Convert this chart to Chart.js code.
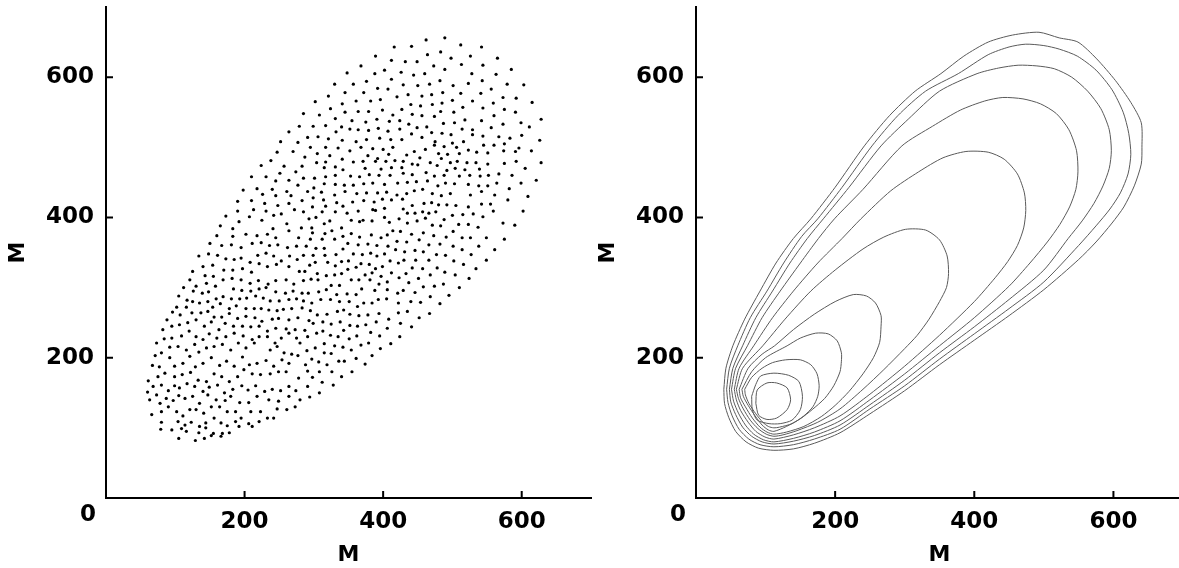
<!DOCTYPE html>
<html lang="en">

<head>
    <meta charset="UTF-8">
    <title>M / M</title>
    <script src="https://cdn.jsdelivr.net/npm/chart.js"></script>
    <style>
        body { margin: 0; background: #fff; overflow: hidden; width: 1179px; height: 568px; position: relative; }
        .painel { position: absolute; top: 0; width: 595px; height: 568px; }
        #painel-pontos { left: 0; }
        #painel-contorno { left: 590px; }
    </style>
</head>

<body>
    <div class="painel" id="painel-pontos"><canvas id="graficoPontos"></canvas></div>
    <div class="painel" id="painel-contorno"><canvas id="graficoContorno"></canvas></div>

<script>
    // eixos
    var tickValues = [200, 400, 600];
    var axisTitle = 'M';

    // pontos, por região
    var dotsUpperLeft = [
        [279,530],[264,522],[252,508],[277,507],[247,493],[270,494],[238,481],[224,474],[257,473],[283,473],
        [274,465],[251,463],[210,458],[231,458],[264,453],[245,452],[198,439],[218,441],[240,440],[277,446],
        [261,437],[226,433],[245,431],[267,431],[190,423],[210,424],[283,424],[229,420],[248,417],[264,420],
        [190,409],[213,411],[272,411],[231,409],[253,405],[173,402],[207,401],[242,403],[192,394],[225,396],
        [261,391],[165,388],[183,384],[241,384],[282,385]
    ];

    var dotsUpperRight = [
        [489,656],[462,653],[512,646],[542,643],[441,644],[416,643],[483,636],[464,632],[389,630],[526,630],
        [498,627],[565,627],[412,624],[432,622],[449,622],[513,618],[544,617],[473,616],[368,616],[489,611],
        [585,611],[402,610],[388,605],[426,607],[348,606],[460,605],[444,603],[528,605],[563,604],[412,597],
        [482,595],[543,595],[376,594],[330,590],[357,590],[429,589],[467,590],[450,588],[501,588],[523,591],
        [579,590],[603,589],[392,584],[407,583],[556,583],[345,578],[372,578],[486,578],[512,577],[541,577],
        [470,575],[436,575],[456,573],[573,571],[592,570],[321,573],[420,572],[396,568],[361,566],[382,566],
        [500,567],[529,566],[302,565],[341,562],[615,564],[559,563],[485,563],[440,561],[454,559],[471,561],
        [515,557],[544,556],[324,555],[427,554],[399,553],[364,551],[379,551],[345,550],[308,546],[285,548],
        [414,546],[502,550],[483,551],[575,554],[591,550],[560,545],[456,545],[442,547],[331,541],[355,538],
        [391,540],[409,537],[375,536],[424,538],[474,544],[518,539],[542,538],[573,533],[628,540],[599,535],
        [299,530],[317,531],[340,529],[437,533],[487,534],[503,535],[529,525],[556,528],[611,529],[291,514],
        [306,515],[321,512],[332,522],[352,526],[364,525],[379,524],[393,527],[407,523],[424,526],[449,528],
        [463,529],[470,521],[485,520],[498,518],[514,526],[341,510],[361,508],[376,511],[395,513],[411,511],
        [427,511],[441,519],[456,514],[475,508],[500,506],[516,508],[529,518],[544,516],[567,515],[583,513],
        [600,517],[626,510],[295,500],[317,500],[335,499],[352,495],[368,500],[385,498],[400,497],[414,500],
        [434,489],[445,494],[461,497],[474,503],[488,501],[506,500],[545,503],[560,503],[575,505],[596,499],
        [305,491],[323,488],[378,488],[408,490],[392,484],[480,491],[493,490],[510,491],[523,496],[535,493],
        [551,492],[574,495],[614,495],[591,494],[287,486],[304,478],[317,479],[341,483],[357,479],[371,480],
        [389,480],[404,480],[417,481],[429,480],[442,476],[453,485],[468,478],[484,484],[497,478],[507,480],
        [521,478],[534,478],[551,476],[575,477],[592,480],[628,478],[315,471],[331,472],[342,468],[374,470],
        [397,469],[412,471],[427,471],[450,475],[478,474],[492,467],[518,468],[504,470],[567,462],[586,460],
        [605,470],[539,469],[285,456],[301,456],[317,458],[331,460],[353,459],[366,458],[380,461],[394,460],
        [410,460],[429,463],[442,461],[462,464],[474,459],[488,460],[510,459],[525,460],[540,459],[552,460],
        [300,442],[315,448],[331,447],[344,446],[357,446],[372,448],[385,449],[402,447],[421,449],[435,450],
        [448,451],[464,452],[479,445],[490,449],[503,448],[523,447],[538,445],[551,445],[564,449],[582,441],
        [599,449],[621,453],[291,437],[311,436],[330,432],[345,437],[362,434],[376,435],[392,435],[405,436],
        [420,432],[434,434],[445,438],[457,440],[471,434],[484,431],[497,434],[526,432],[542,437],[561,432],
        [609,430],[299,428],[314,425],[356,422],[372,424],[387,422],[399,426],[412,425],[428,426],[298,415],
        [317,416],[333,421],[342,416],[385,411],[402,413],[429,412],[442,417],[459,420],[470,421],[480,418],
        [492,418],[505,417],[523,415],[542,419],[555,419],[580,425],[285,408],[293,398],[303,400],[312,408],
        [323,395],[331,408],[348,406],[364,409],[371,396],[389,410],[402,400],[423,398],[435,406],[446,406],
        [457,408],[466,406],[476,408],[488,397],[500,403],[515,404],[530,405],[544,401],[559,409],[573,392],
        [590,389],[602,409],[297,385],[315,391],[340,385],[354,396],[366,394],[384,395],[409,393],[435,392],
        [449,395],[461,399],[471,389],[483,388],[509,390],[523,390],[537,386]
    ];

    var dotsLowerLeft = [
        [160,374],[183,373],[202,376],[218,374],[233,376],[245,371],[264,381],[278,371],
        [150,363],[167,360],[181,361],[195,357],[211,363],[224,364],[236,360],[248,361],[262,357],[275,359],
        [134,345],[148,348],[161,346],[173,341],[185,340],[195,342],[208,336],[219,346],[231,349],[242,345],
        [253,338],[265,345],[276,340],[125,323],[140,330],[154,332],[170,325],[183,325],[197,327],[210,322],
        [221,334],[233,330],[246,333],[264,330],[279,323],[121,311],[143,317],[155,316],[169,311],[182,313],
        [195,311],[208,306],[220,310],[234,305],[245,310],[260,311],[271,305],[112,300],[130,302],[145,306],
        [158,302],[184,298],[196,296],[209,295],[221,298],[231,300],[245,294],[259,292],[270,295],[283,292],
        [105,288],[117,282],[126,295],[139,292],[148,294],[159,284],[169,287],[181,284],[193,284],[203,285],
        [216,288],[227,285],[237,281],[250,281],[264,283],[275,284],[102,272],[116,272],[125,280],[135,278],
        [147,280],[154,272],[165,277],[178,270],[188,274],[202,270],[214,270],[224,270],[235,268],[247,267],
        [256,269],[268,270],[283,271],[88,254],[96,265],[107,261],[124,264],[137,264],[147,266],[156,258],
        [167,258],[178,263],[190,256],[202,259],[215,257],[225,252],[240,255],[249,256],[264,254],[277,257],
        [82,240],[95,245],[106,247],[118,250],[130,254],[142,245],[152,251],[163,240],[172,249],[184,245],
        [197,245],[209,244],[221,245],[233,238],[245,242],[260,241],[273,240],[73,221],[84,227],[95,228],
        [109,231],[120,238],[130,230],[140,226],[149,234],[160,228],[173,230],[185,235],[198,231],[211,226],
        [221,230],[233,230],[244,221],[253,228],[264,235],[275,228],[71,203],[80,207],[92,215],[104,216],
        [116,211],[128,219],[134,208],[145,214],[156,216],[168,219],[180,211],[191,221],[202,214],[214,221],
        [237,211],[247,216],[257,207],[268,205],[280,221],[67,189],[77,187],[92,200],[99,188],[111,192],
        [121,202],[129,187],[140,192],[152,200],[164,189],[174,195],[185,188],[197,201],[207,190],[218,192],
        [231,196],[242,188],[254,197],[264,192],[277,203],[61,167],[75,173],[85,178],[99,173],[110,176],
        [122,179],[133,168],[145,166],[156,177],[167,173],[178,166],[190,173],[199,183],[211,177],[223,176],
        [237,177],[249,180],[260,180],[278,171],[60,151],[68,159],[80,161],[90,153],[99,160],[106,157],
        [117,163],[128,159],[140,152],[149,158],[161,161],[171,150],[183,155],[196,160],[205,154],[216,160],
        [229,152],[240,155],[252,153],[264,159],[274,153],[63,140],[73,147],[78,135],[87,142],[97,139],
        [105,146],[114,142],[125,145],[135,135],[147,147],[159,140],[172,139],[180,145],[193,136],[206,136],
        [218,145],[235,140],[249,138],[264,145],[280,140],[66,119],[80,123],[90,130],[102,123],[111,117],
        [121,126],[130,126],[141,121],[152,130],[164,130],[175,123],[187,123],[195,114],[209,123],[223,123],
        [233,114],[247,127],[261,126],[273,130],[80,108],[95,97],[104,109],[114,104],[123,108],[135,102],
        [144,107],[156,114],[166,107],[175,103],[187,109],[206,106],[221,109],[242,114],[79,98],[109,99],
        [116,95],[134,93],[144,100],[155,92],[168,92],[178,93],[192,102],[211,102],[105,85],[129,82],
        [142,85],[152,89],[166,88]
    ];

    var dotsLowerRight = [
        [298,378],[316,377],[326,381],[342,373],[354,377],[366,372],[383,375],[397,371],[406,375],[414,381],
        [425,380],[441,376],[458,378],[473,374],[491,372],[501,380],[514,371],[526,371],[549,371],[575,369],
        [295,369],[312,369],[330,369],[349,363],[364,361],[378,362],[391,360],[407,359],[420,366],[434,365],
        [452,368],[466,361],[482,362],[501,359],[514,354],[538,359],[561,354],[289,359],[303,356],[315,356],
        [332,347],[342,355],[357,348],[370,347],[382,349],[391,345],[402,348],[418,354],[431,351],[446,353],
        [458,351],[477,347],[490,346],[527,347],[549,339],[285,346],[299,346],[316,346],[302,336],[294,332],
        [320,336],[331,331],[340,337],[350,338],[361,329],[368,334],[380,333],[389,327],[399,330],[410,338],
        [422,335],[430,339],[447,339],[466,339],[502,338],[516,333],[534,327],[287,323],[305,320],[318,317],
        [330,318],[340,320],[349,326],[374,318],[384,321],[397,316],[412,321],[423,314],[433,320],[442,328],
        [457,327],[468,318],[478,328],[489,322],[504,318],[524,313],[285,310],[296,312],[306,311],[325,303],
        [337,303],[354,311],[365,311],[381,311],[394,305],[406,308],[421,292],[429,296],[437,307],[451,313],
        [458,301],[474,302],[487,305],[510,300],[292,292],[307,294],[318,297],[333,290],[348,291],[361,290],
        [369,298],[388,296],[406,297],[446,293],[468,287],[495,289],[285,281],[297,278],[310,283],[324,283],
        [337,280],[351,280],[363,273],[372,278],[384,278],[393,283],[405,284],[422,278],[440,280],[454,279],
        [482,277],[295,267],[305,261],[319,262],[334,266],[343,268],[352,262],[365,260],[378,261],[394,263],
        [408,255],[422,264],[435,266],[452,257],[467,263],[293,253],[299,249],[313,251],[325,248],[338,251],
        [352,246],[363,245],[375,247],[390,251],[406,242],[425,249],[441,244],[287,239],[291,230],[304,235],
        [313,238],[324,232],[335,230],[343,239],[351,227],[362,231],[382,236],[395,231],[424,230],[290,210],
        [302,214],[315,220],[330,217],[342,215],[354,211],[368,218],[379,221],[396,213],[411,220],[297,198],
        [307,194],[315,207],[325,206],[336,195],[344,195],[361,199],[384,203],[288,190],[319,190],[374,191],
        [291,181],[308,180],[326,180],[355,180],[298,172],[340,173],[291,159],[312,165],[328,161],[308,150],
        [294,144]
    ];

    // curvas de nível, da mais externa para a mais interna
    var contour1 = [[40,155],[43,185],[53,217],[70,255],[92,295],[115,335],[140,370],[165,398],[200,443],[242,502],[278,545],[315,580],[352,605],[385,630],[420,650],[455,660],[493,664],[522,656],[549,650],[576,626],[603,595],[625,564],[640,535],[641,500],[640,476],[630,445],[615,415],[598,392],[575,365],[550,340],[500,297],[450,260],[400,225],[350,190],[300,153],[250,120],[207,93],[170,78],[140,70],[112,68],[90,71],[72,80],[57,95],[47,115],[41,135],[40,155]];
    var contour2 = [[44,155],[48,185],[60,217],[78,257],[102,295],[126,335],[152,373],[175,398],[210,443],[253,502],[290,545],[330,580],[377,605],[420,632],[450,643],[474,647],[500,645],[522,640],[548,630],[575,610],[598,582],[614,550],[622,520],[625,490],[621,462],[610,435],[595,412],[575,388],[550,360],[500,308],[450,270],[400,234],[350,198],[300,160],[250,127],[207,98],[170,84],[140,76],[112,73],[92,76],[76,84],[62,98],[52,117],[46,136],[44,155]];
    var contour3 = [[48,155],[53,185],[67,217],[86,257],[110,295],[135,335],[160,370],[183,398],[220,443],[266,502],[305,540],[350,580],[404,605],[435,613],[463,617],[490,616],[515,612],[540,600],[563,580],[582,555],[594,525],[597,495],[594,470],[585,445],[572,420],[555,395],[535,370],[500,325],[450,283],[400,244],[350,207],[300,168],[250,133],[207,104],[170,89],[140,81],[112,77],[95,80],[80,88],[67,101],[57,119],[50,137],[48,155]];
    var contour4 = [[51,155],[57,185],[74,217],[95,257],[121,295],[150,335],[176,370],[199,398],[240,440],[296,502],[340,530],[380,553],[415,566],[441,571],[470,569],[495,562],[518,548],[536,525],[547,495],[549,465],[546,440],[537,415],[523,390],[505,365],[480,335],[450,302],[400,257],[350,217],[300,177],[250,140],[207,110],[170,94],[140,85],[112,80],[97,83],[83,91],[71,104],[61,121],[54,138],[51,155]];
    var contour5 = [[55,155],[62,185],[83,217],[110,257],[140,295],[175,335],[210,370],[237,398],[280,438],[320,465],[355,485],[388,494],[420,493],[443,483],[462,462],[472,435],[474,410],[471,385],[462,360],[448,337],[430,314],[400,280],[350,232],[300,188],[250,148],[207,117],[170,100],[140,90],[112,84],[99,87],[86,95],[75,108],[64,125],[58,140],[55,155]];
    var contour6 = [[58,155],[67,185],[96,217],[128,255],[165,295],[200,325],[240,355],[270,372],[301,383],[330,382],[350,368],[361,345],[363,320],[360,300],[350,280],[335,255],[318,232],[300,213],[270,183],[240,155],[207,127],[175,108],[145,96],[125,90],[112,88],[101,91],[89,99],[78,111],[68,127],[61,142],[58,155]];
    var contour7 = [[62,155],[75,185],[95,205],[113,217],[140,240],[170,262],[200,280],[226,290],[245,288],[258,278],[266,260],[266,245],[264,222],[255,200],[240,177],[220,152],[200,132],[180,116],[155,102],[130,94],[112,91],[102,94],[92,101],[81,114],[71,130],[64,143],[62,155]];
    var contour8 = [[66,155],[80,180],[100,200],[131,217],[150,228],[172,235],[190,234],[203,224],[209,207],[209,195],[207,180],[198,160],[185,142],[167,126],[150,113],[130,102],[112,95],[104,97],[95,104],[85,117],[75,132],[68,145],[66,155]];
    var contour9 = [[70,155],[80,172],[95,185],[110,193],[129,197],[150,197],[165,190],[174,177],[177,160],[175,145],[168,130],[155,117],[138,106],[120,101],[112,100],[104,102],[96,108],[86,120],[76,135],[71,147],[70,155]];
    var contour10 = [[80,145],[86,162],[93,174],[112,178],[133,175],[148,166],[153,145],[150,126],[138,111],[121,106],[105,106],[88,111],[81,126],[80,145]];
    var contour11 = [[86,135],[88,154],[102,164],[116,164],[131,157],[136,140],[131,126],[116,114],[102,112],[90,118],[86,135]];

    var fonteEixo = { family: 'DejaVu Sans', size: 23, weight: 'bold' };
    var fonteTitulo = { family: 'DejaVu Sans', size: 22, weight: 'bold' };

    function toXY(lista) {
        return lista.map(function (p) { return { x: p[0], y: p[1] }; });
    }

    // marcas dos ticks para dentro + o "0" no canto
    var marcasInternas = {
        id: 'marcasInternas',
        afterDraw: function (chart) {
            var ctx = chart.ctx;
            var sx = chart.scales.x;
            var sy = chart.scales.y;
            ctx.save();
            ctx.strokeStyle = '#000';
            ctx.lineWidth = 2;
            tickValues.forEach(function (v) {
                var px = sx.getPixelForValue(v);
                var py = sy.getPixelForValue(v);
                ctx.beginPath();
                ctx.moveTo(px, sy.bottom);
                ctx.lineTo(px, sy.bottom - 7);
                ctx.moveTo(sx.left, py);
                ctx.lineTo(sx.left + 7, py);
                ctx.stroke();
            });
            ctx.fillStyle = '#000';
            ctx.font = 'bold 23px "DejaVu Sans"';
            ctx.textAlign = 'center';
            ctx.textBaseline = 'middle';
            ctx.fillText('0', sx.left - 18, sy.bottom + 17);
            ctx.restore();
        }
    };

    function eixo(qual) {
        return {
            type: 'linear',
            min: 0,
            max: 700,
            grid: { display: false, drawTicks: false },
            border: { display: true, color: '#000', width: 2 },
            ticks: {
                color: '#000',
                font: fonteEixo,
                padding: qual === 'x' ? 10 : 12
            },
            afterBuildTicks: function (scale) {
                scale.ticks = tickValues.map(function (v) { return { value: v }; });
            },
            afterFit: function (scale) {
                // tamanho fixo e sem folga extra dos rótulos
                if (qual === 'x') {
                    scale.height = 70;
                } else {
                    scale.width = 106;
                }
                scale.paddingTop = 0;
                scale.paddingBottom = 0;
                scale.paddingLeft = 0;
                scale.paddingRight = 0;
            },
            title: {
                display: true,
                text: axisTitle,
                color: '#000',
                font: fonteTitulo,
                padding: qual === 'x' ? { top: 0, bottom: 0 } : { top: 5, bottom: 0 }
            }
        };
    }

    function opcoes() {
        return {
            responsive: true,
            maintainAspectRatio: false,
            animation: false,
            layout: { padding: { left: 0, right: 2, top: 7, bottom: 0 } },
            plugins: { legend: { display: false }, tooltip: { enabled: false } },
            scales: { x: eixo('x'), y: eixo('y') }
        };
    }

    // Gráfico de pontos
    var todosPontos = [].concat(dotsUpperLeft, dotsUpperRight, dotsLowerLeft, dotsLowerRight);

    new Chart(document.getElementById('graficoPontos').getContext('2d'), {
        type: 'scatter',
        data: {
            datasets: [{
                data: toXY(todosPontos),
                backgroundColor: '#000',
                borderWidth: 0,
                pointRadius: 1.6
            }]
        },
        options: opcoes(),
        plugins: [marcasInternas]
    });

    // Gráfico de contorno
    var curvas = [contour1, contour2, contour3, contour4, contour5, contour6, contour7, contour8, contour9, contour10, contour11];

    new Chart(document.getElementById('graficoContorno').getContext('2d'), {
        type: 'scatter',
        data: {
            datasets: curvas.map(function (c) {
                return {
                    data: toXY(c),
                    showLine: true,
                    borderColor: '#5a5a5a',
                    borderWidth: 1,
                    pointRadius: 0,
                    tension: 0.25
                };
            })
        },
        options: opcoes(),
        plugins: [marcasInternas]
    });
</script>
</body>

</html>
